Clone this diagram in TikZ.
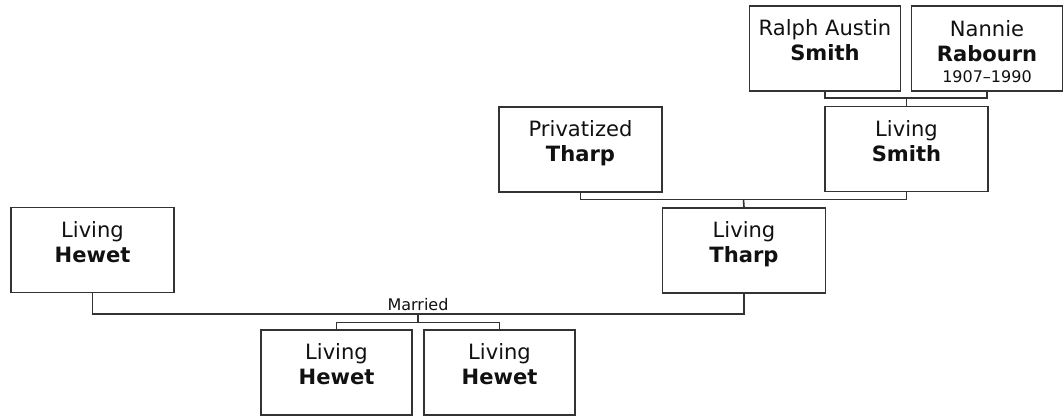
\documentclass[tikz,border=0pt]{standalone}
\usepackage{fontspec}
\setmainfont{DejaVu Sans}
\usepackage{tikz}
\usetikzlibrary{positioning,calc}
\definecolor{LineGray}{HTML}{333333}
\definecolor{TextDark}{HTML}{111111}
\newcommand{\datesize}{\fontsize{12}{14}\selectfont}

\begin{document}
\begin{tikzpicture}[
  x=0.75pt, y=-0.75pt,
  person/.style={draw=LineGray, line width=1.2pt, fill=white, text=TextDark, align=center,
    inner sep=0pt, minimum width=122.25pt, text height=40.9pt, text depth=22.85pt,
    font=\fontsize{15.8}{18.75}\selectfont},
  narrow/.style={person, minimum width=113.25pt},
  threeline/.style={text height=57.75pt, text depth=6pt},
  link/.style={draw=LineGray, line width=1.2pt},
  note/.style={text=TextDark, inner sep=2pt, font=\fontsize{12}{14}\selectfont}
]
  \useasboundingbox (0,0) rectangle (1063,416);

  % grandparents
  \node[narrow] (ralph) at (825,48.5) {Ralph Austin\\\textbf{Smith}};
  \node[narrow, threeline] (nannie) at (987,48.5) {Nannie\\\textbf{Rabourn}\\[-3pt]{\datesize 1907–1990}};

  % parents of Living Tharp
  \node[person] (priv) at (580.5,149.5) {Privatized\\\textbf{Tharp}};
  \node[person] (smith) at (906.5,149.2) {Living\\\textbf{Smith}};

  % couple
  \node[person] (hewet) at (92.5,250) {Living\\\textbf{Hewet}};
  \node[person] (tharp) at (744,250.5) {Living\\\textbf{Tharp}};

  % children
  \node[narrow] (kidA) at (336.5,372.5) {Living\\\textbf{Hewet}};
  \node[narrow] (kidB) at (499.5,372.5) {Living\\\textbf{Hewet}};

  % junctions
  \coordinate (jsmith) at (906.5,98);
  \coordinate (jtharp) at (743.5,199.5);
  \coordinate (jmarr) at (418,314);
  \coordinate (jkids) at (418,322.5);

  \draw[link] (ralph.south) |- (jsmith) -| (nannie.south);
  \draw[link] (jsmith) -- (smith.north);
  \draw[link] (priv.south) |- (jtharp) -| (smith.south);
  \draw[link] (jtharp) -- (tharp.north);
  \draw[link] (hewet.south) |- (jmarr) -| (tharp.south);
  \node[note, above=0pt of jmarr] (married) {Married};
  \draw[link] (jmarr) -- (jkids);
  \draw[link] (kidA.north) |- (jkids) -| (kidB.north);
\end{tikzpicture}
\end{document}
